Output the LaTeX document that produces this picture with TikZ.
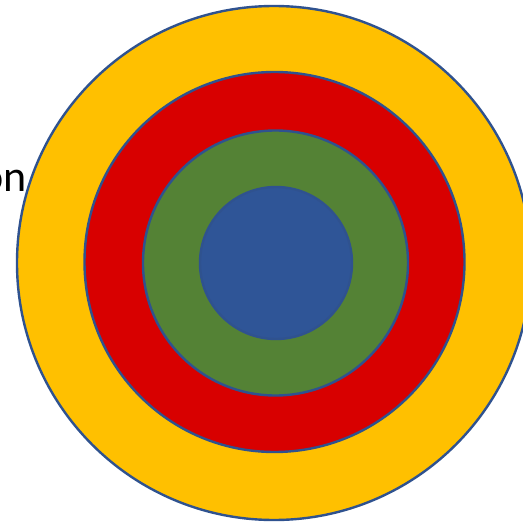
\documentclass[tikz,border=0pt]{standalone}
\usepackage{fontspec}
\setmainfont{Carlito}
\usepackage{xcolor}
\usetikzlibrary{positioning}
\definecolor{ringedge}{HTML}{2F528F}
\definecolor{ringyellow}{HTML}{FFC000}
\definecolor{ringred}{HTML}{D80000}
\definecolor{ringgreen}{HTML}{548235}
\definecolor{ringblue}{HTML}{2F5597}

\begin{document}
\begin{tikzpicture}[x=1pt,y=-1pt]
    \useasboundingbox (0,0) rectangle (523,522);

    % Rings, outermost first
    \foreach \name/\col/\cx/\cy/\d in {outer/ringyellow/274/263/514,third/ringred/274.5/262/380,second/ringgreen/275.5/263/265,core/ringblue/276/263/152} {
        \node[circle,draw=ringedge,line width=2.4pt,fill=\col,minimum size=\d pt,inner sep=0pt] (\name) at (\cx,\cy) {};
    }

    % Cut-off label
    \node[anchor=base east,inner sep=0pt,font=\fontsize{44}{52}\selectfont] (label) at (27,191) {on};
\end{tikzpicture}
\end{document}
